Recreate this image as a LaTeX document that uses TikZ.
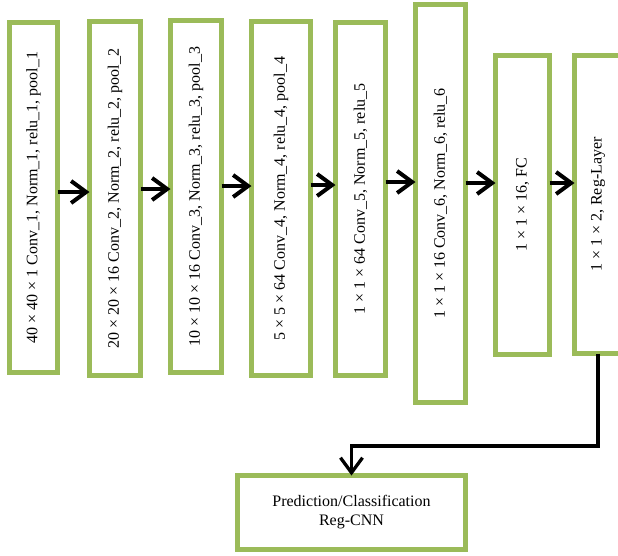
\documentclass[tikz,border=0pt]{standalone}
\usepackage{fontspec}
\setmainfont{Liberation Serif}
\usetikzlibrary{arrows.meta}
\definecolor{olivegreen}{HTML}{9BBB59}
\tikzset{
  box/.style={draw=olivegreen, line width=5pt, fill=white, inner sep=0pt, outer sep=0pt,
    font=\fontsize{16}{19}\selectfont, align=center},
  vbox/.style={box, rotate=90},
  arr/.style={line width=4pt, -{Straight Barb[length=15pt,width=22pt]}},
  darr/.style={line width=3.3pt, -{Straight Barb[length=15pt,width=22pt]}}
}
\begin{document}
\begin{tikzpicture}[x=1pt,y=-1pt]
\useasboundingbox (0,0) rectangle (618,555);
\clip (0,0) rectangle (618,555);
% boxes (rotated: minimum width = vertical size, minimum height = horizontal size)
\node[vbox, minimum width=350pt, minimum height=48pt] (b1) at (33.5,197.5) {40 × 40 × 1 Conv\_1, Norm\_1, relu\_1, pool\_1};
\node[vbox, minimum width=354pt, minimum height=51pt] (b2) at (115,198.5) {20 × 20 × 16 Conv\_2, Norm\_2, relu\_2, pool\_2};
\node[vbox, minimum width=352pt, minimum height=51pt] (b3) at (196,196.5) {10 × 10 × 16 Conv\_3, Norm\_3, relu\_3, pool\_3};
\node[vbox, minimum width=354pt, minimum height=59pt] (b4) at (281,198.5) {5 × 5 × 64 Conv\_4, Norm\_4, relu\_4, pool\_4};
\node[vbox, minimum width=353pt, minimum height=50pt] (b5) at (360.5,199) {1 × 1 × 64 Conv\_5, Norm\_5, relu\_5};
\node[vbox, minimum width=398pt, minimum height=50pt] (b6) at (440.5,203.5) {1 × 1 × 16 Conv\_6, Norm\_6, relu\_6};
\node[vbox, minimum width=299pt, minimum height=54pt] (b7) at (522.5,205) {1 × 1 × 16, FC};
\node[vbox, minimum width=298pt, minimum height=47pt] (b8) at (598,204.5) {1 × 1 × 2, Reg-Layer};
\node[box, minimum width=228pt, minimum height=74pt] (b9) at (351.5,512.5) {Prediction/Classification\\Reg-CNN};
% arrows
\draw[arr] (b1.south |- 0,192) -- (b2.north |- 0,192);
\draw[arr] (b2.south |- 0,189) -- (b3.north |- 0,189);
\draw[arr] (b3.south |- 0,186) -- (b4.north |- 0,186);
\draw[arr] (b4.south |- 0,185) -- (b5.north |- 0,185);
\draw[arr] (b5.south |- 0,182) -- (b6.north |- 0,182);
\draw[arr] (b6.south |- 0,183) -- (b7.north |- 0,183);
\draw[arr] (b7.south |- 0,183) -- (b8.north |- 0,183);
\draw[darr] (b8.west) |- (b9.north |- 0,446) -- (b9.north);
\end{tikzpicture}
\end{document}
